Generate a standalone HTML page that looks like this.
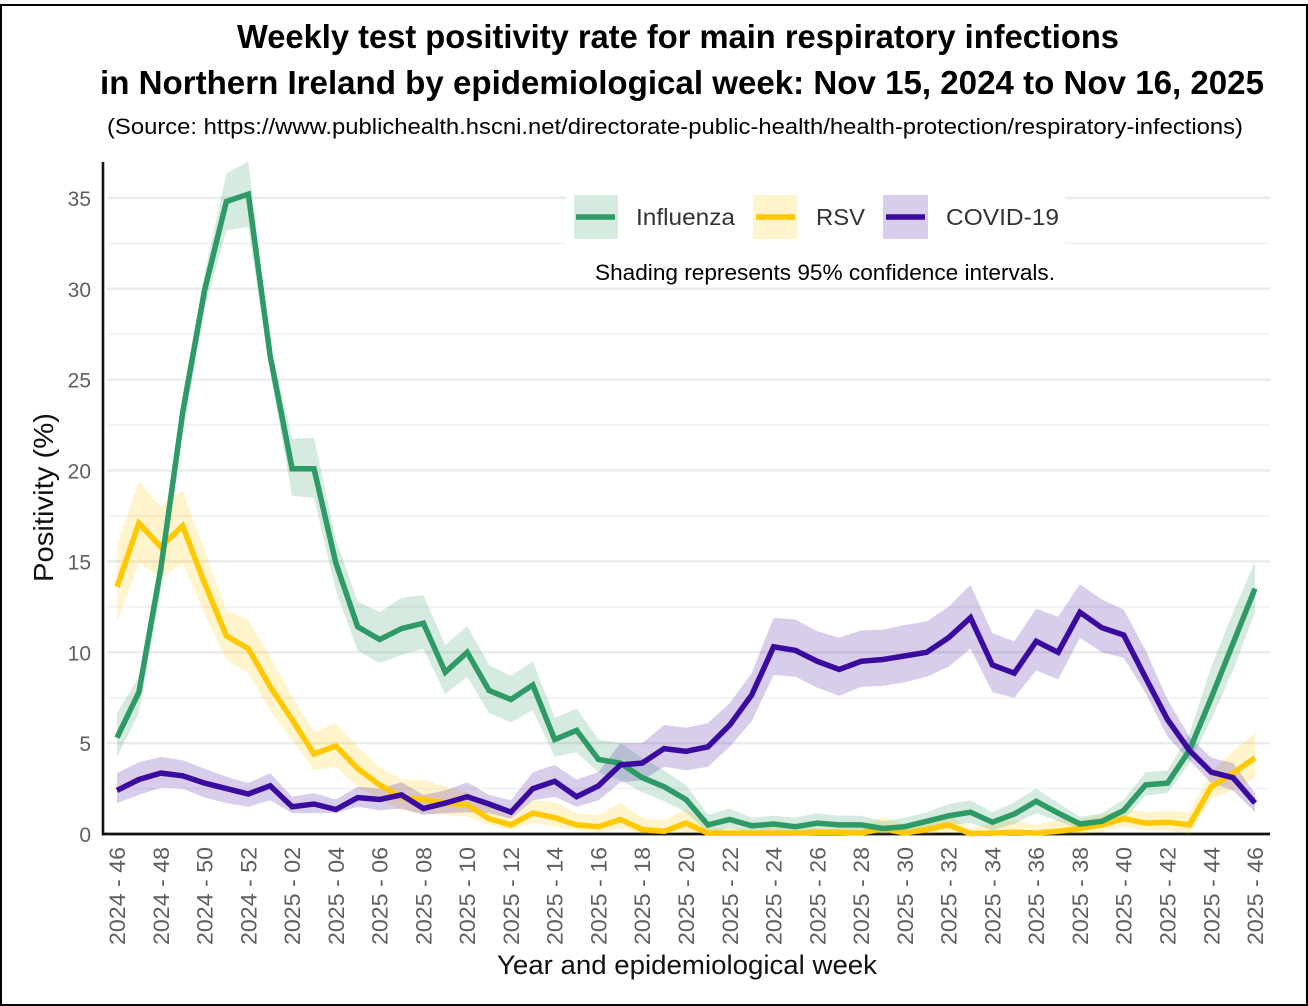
<!DOCTYPE html>
<html lang="en">
<head>
<meta charset="utf-8">
<title>Weekly test positivity rate, Northern Ireland</title>
<style>
html,body{margin:0;padding:0;background:#fff;}
svg{display:block;font-family:"Liberation Sans",Arial,sans-serif;}
</style>
</head>
<body>
<svg id="chart" xmlns="http://www.w3.org/2000/svg" width="1308" height="1006" viewBox="0 0 1308 1006">
  <rect x="0" y="0" width="1308" height="1006" fill="#fff"/>
  <rect x="1" y="5" width="1306" height="1000" fill="none" stroke="#000" stroke-width="2"/>
  <text x="237" y="48" font-size="33.5" font-weight="700" fill="#000" textLength="882" lengthAdjust="spacingAndGlyphs">Weekly test positivity rate for main respiratory infections</text>
  <text x="100" y="94" font-size="33.5" font-weight="700" fill="#000" textLength="1164" lengthAdjust="spacingAndGlyphs">in Northern Ireland by epidemiological week: Nov 15, 2024 to Nov 16, 2025</text>
  <text x="107" y="134" font-size="22" fill="#000" textLength="1136" lengthAdjust="spacingAndGlyphs">(Source: https://www.publichealth.hscni.net/directorate-public-health/health-protection/respiratory-infections)</text>
  <g id="grid"></g>
  <g id="yticks"></g>
  <g id="xticks"></g>
  <line x1="103" y1="162" x2="103" y2="835.5" stroke="#111" stroke-width="2.6"/>
  <line x1="102" y1="834" x2="1270" y2="834" stroke="#111" stroke-width="2.8"/>
  <g id="series"></g>
  <text transform="translate(53,582) rotate(-90)" font-size="28" fill="#111" textLength="169" lengthAdjust="spacingAndGlyphs">Positivity (%)</text>
  <text x="497" y="974" font-size="26.5" fill="#111" textLength="380" lengthAdjust="spacingAndGlyphs">Year and epidemiological week</text>
  <g>
    <rect x="566" y="190" width="499" height="57" fill="#fff"/>
    <rect x="574" y="195" width="44" height="44" fill="#2E9A66" fill-opacity="0.2"/>
    <line x1="576" y1="217" x2="615" y2="217" stroke="#2E9A66" stroke-width="5.5"/>
    <text x="636" y="225" font-size="23.5" fill="#333" textLength="99" lengthAdjust="spacingAndGlyphs">Influenza</text>
    <rect x="753" y="195" width="44" height="44" fill="#FFC800" fill-opacity="0.2"/>
    <line x1="756" y1="217" x2="795" y2="217" stroke="#FFC800" stroke-width="5.5"/>
    <text x="816" y="225" font-size="23.5" fill="#333" textLength="49" lengthAdjust="spacingAndGlyphs">RSV</text>
    <rect x="883" y="195" width="45" height="44" fill="#3B0A9E" fill-opacity="0.2"/>
    <line x1="886" y1="217" x2="925" y2="217" stroke="#3B0A9E" stroke-width="5.5"/>
    <text x="946" y="225" font-size="23.5" fill="#333" textLength="113" lengthAdjust="spacingAndGlyphs">COVID-19</text>
  </g>
  <text x="595" y="280" font-size="22" fill="#000" textLength="460" lengthAdjust="spacingAndGlyphs">Shading represents 95% confidence intervals.</text>
</svg>
<script>
var categories = ["2024 - 46","2024 - 47","2024 - 48","2024 - 49","2024 - 50","2024 - 51","2024 - 52","2025 - 01","2025 - 02","2025 - 03","2025 - 04","2025 - 05","2025 - 06","2025 - 07","2025 - 08","2025 - 09","2025 - 10","2025 - 11","2025 - 12","2025 - 13","2025 - 14","2025 - 15","2025 - 16","2025 - 17","2025 - 18","2025 - 19","2025 - 20","2025 - 21","2025 - 22","2025 - 23","2025 - 24","2025 - 25","2025 - 26","2025 - 27","2025 - 28","2025 - 29","2025 - 30","2025 - 31","2025 - 32","2025 - 33","2025 - 34","2025 - 35","2025 - 36","2025 - 37","2025 - 38","2025 - 39","2025 - 40","2025 - 41","2025 - 42","2025 - 43","2025 - 44","2025 - 45","2025 - 46"];
var xTickLabels = ["2024 - 46","2024 - 48","2024 - 50","2024 - 52","2025 - 02","2025 - 04","2025 - 06","2025 - 08","2025 - 10","2025 - 12","2025 - 14","2025 - 16","2025 - 18","2025 - 20","2025 - 22","2025 - 24","2025 - 26","2025 - 28","2025 - 30","2025 - 32","2025 - 34","2025 - 36","2025 - 38","2025 - 40","2025 - 42","2025 - 44","2025 - 46"];
var yTickLabels = [0,5,10,15,20,25,30,35];
var yMinorTicks = [2.5,7.5,12.5,17.5,22.5,27.5,32.5];

var influenza = [5.3,7.8,14.6,23.2,29.9,34.8,35.2,26.3,20.1,20.1,14.9,11.4,10.7,11.3,11.6,8.9,10.0,7.9,7.4,8.2,5.2,5.7,4.1,3.9,3.1,2.6,1.9,0.5,0.8,0.45,0.55,0.4,0.6,0.5,0.5,0.3,0.4,0.7,1.0,1.2,0.65,1.1,1.8,1.15,0.55,0.7,1.3,2.7,2.8,4.6,7.5,10.5,13.5];
var influenzaUpper = [6.65,8.65,15.6,24.2,30.8,36.35,37.0,26.9,21.75,21.8,16.2,12.8,12.2,13.0,13.15,10.4,11.45,9.3,8.7,9.5,6.4,6.9,5.2,5.0,4.2,3.5,2.7,1.05,1.4,0.9,1.0,0.9,1.15,1.0,1.0,0.7,0.9,1.2,1.65,1.85,1.2,1.75,2.5,1.7,0.95,1.15,1.9,3.4,3.5,5.5,9.2,12.2,15.0];
var influenzaLower = [4.25,6.65,13.4,22.0,28.9,33.2,33.4,25.4,18.6,18.5,13.4,10.1,9.4,9.85,10.2,7.7,8.65,6.65,6.15,6.8,4.25,4.5,3.4,2.95,2.3,1.8,1.2,0.1,0.3,0.1,0.2,0.1,0.2,0.2,0.2,0.05,0.05,0.3,0.5,0.6,0.2,0.55,1.15,0.7,0.25,0.35,0.8,2.1,2.25,3.9,6.3,9.0,12.2];

var rsv = [13.6,17.1,15.8,16.95,13.8,10.9,10.2,8.1,6.3,4.4,4.85,3.6,2.7,2.0,1.9,1.7,1.6,0.85,0.5,1.15,0.9,0.5,0.4,0.8,0.25,0.15,0.6,0.05,0.05,0.05,0.05,0.05,0.1,0.1,0.05,0.3,0.05,0.25,0.5,0.02,0.05,0.1,0.05,0.15,0.3,0.5,0.85,0.6,0.65,0.5,2.6,3.35,4.2];
var rsvUpper = [15.9,19.4,18.0,18.9,15.6,12.3,11.8,9.75,7.55,5.6,6.1,4.8,3.7,3.0,3.0,2.6,2.3,1.5,0.95,1.85,1.75,1.15,1.05,1.7,0.9,0.75,1.4,0.4,0.3,0.3,0.4,0.5,0.3,0.3,0.4,0.95,0.5,0.8,1.1,0.3,0.6,0.75,0.5,0.8,0.8,1.05,1.4,1.2,1.3,1.2,3.4,4.6,5.55];
var rsvLower = [11.6,14.9,14.1,14.9,12.15,9.6,8.85,6.8,5.2,3.5,3.7,2.6,1.9,1.3,1.15,1.05,0.95,0.5,0.2,0.6,0.4,0.2,0.1,0.3,0,0,0.1,0,0,0,0,0,0,0,0,0,0,0,0.1,0,0,0,0,0,0,0.1,0.4,0.2,0.2,0,1.95,2.4,3.1];

var covid = [2.4,3.0,3.35,3.2,2.8,2.5,2.2,2.65,1.5,1.65,1.35,2.0,1.9,2.15,1.4,1.7,2.05,1.65,1.2,2.5,2.9,2.05,2.65,3.8,3.9,4.7,4.55,4.8,6.0,7.65,10.3,10.1,9.5,9.05,9.5,9.6,9.8,10.0,10.8,11.9,9.3,8.85,10.6,10.0,12.2,11.35,10.95,8.6,6.3,4.6,3.4,3.1,1.7];
var covidUpper = [3.35,3.95,4.25,4.05,3.6,3.15,2.8,3.35,2.05,2.25,1.9,2.6,2.5,2.85,2.15,2.4,2.85,2.15,1.85,3.4,3.8,3.0,3.4,5.0,5.0,6.0,5.85,6.1,7.2,8.85,11.9,11.8,11.15,10.8,11.2,11.25,11.5,11.7,12.5,13.7,11.05,10.6,12.4,11.95,13.75,12.9,12.35,10.1,7.4,5.35,4.2,3.9,2.25];
var covidLower = [1.7,2.15,2.55,2.5,2.0,1.7,1.5,1.85,1.15,1.15,1.15,1.5,1.3,1.4,1.05,1.15,1.2,1.15,0.85,1.85,2.05,1.5,1.85,2.85,2.95,3.7,3.5,3.7,4.8,6.2,8.75,8.65,8.05,7.6,8.1,8.15,8.35,8.65,9.2,10.2,7.8,7.5,9.0,8.5,10.8,10.0,9.7,7.75,5.35,4.05,2.8,2.4,1.2];

var NS = "http://www.w3.org/2000/svg";
var plot = {x0:117, xStep:21.885, y0:834, yPerUnit:18.175, gridLeft:107, gridRight:1270};
function xScale(i){ return plot.x0 + i * plot.xStep; }
function yScale(v){ return plot.y0 - v * plot.yPerUnit; }
function make(tag, attrs){
  var el = document.createElementNS(NS, tag);
  for (var k in attrs) el.setAttribute(k, attrs[k]);
  return el;
}
var grid = document.getElementById("grid");
yMinorTicks.forEach(function(v){
  var el = make("line", {x1:plot.gridLeft, x2:plot.gridRight, y1:yScale(v), y2:yScale(v), stroke:"#f3f3f3", "stroke-width":2});
  
  
  grid.appendChild(el);
});
yTickLabels.forEach(function(v){
  if (v > 0) {
    var el = make("line", {x1:plot.gridLeft, x2:plot.gridRight, y1:yScale(v), y2:yScale(v), stroke:"#ebebeb", "stroke-width":2.6});
    
    
    grid.appendChild(el);
  }
});
var yt = document.getElementById("yticks");
yTickLabels.forEach(function(v){
  var el = make("text", {x:91, y:yScale(v)+8, "text-anchor":"end", "font-size":21, fill:"#5f5f5f"});
  
  
  el.textContent = String(v);
  yt.appendChild(el);
});
var xt = document.getElementById("xticks");
xTickLabels.forEach(function(label){
  var i = categories.indexOf(label);
  var bx = xScale(i) + 8;
  var el = make("text", {transform:"translate("+bx+",847) rotate(-90)", "text-anchor":"end", "font-size":22, fill:"#5f5f5f", textLength:98, lengthAdjust:"spacingAndGlyphs"});
  
  
  el.textContent = label;
  xt.appendChild(el);
});
function linePoints(values){
  return values.map(function(v,i){ return xScale(i).toFixed(1)+","+yScale(v).toFixed(1); }).join(" ");
}
function bandPoints(upper, lower){
  var top = upper.map(function(v,i){ return xScale(i).toFixed(1)+","+yScale(v).toFixed(1); });
  var bot = lower.map(function(v,i){ return xScale(i).toFixed(1)+","+yScale(v).toFixed(1); }).reverse();
  return top.concat(bot).join(" ");
}
var layer = document.getElementById("series");

var rsvBand = make("polygon", {points:bandPoints(rsvUpper, rsvLower), fill:"#FFC800", "fill-opacity":0.2});


layer.appendChild(rsvBand);

var fluBand = make("polygon", {points:bandPoints(influenzaUpper, influenzaLower), fill:"#2E9A66", "fill-opacity":0.2});


layer.appendChild(fluBand);

var covidBand = make("polygon", {points:bandPoints(covidUpper, covidLower), fill:"#3B0A9E", "fill-opacity":0.2});


layer.appendChild(covidBand);

var rsvLine = make("polyline", {points:linePoints(rsv), fill:"none", stroke:"#FFC800", "stroke-width":5.5, "stroke-linejoin":"miter"});


layer.appendChild(rsvLine);

var fluLine = make("polyline", {points:linePoints(influenza), fill:"none", stroke:"#2E9A66", "stroke-width":5.5, "stroke-linejoin":"miter"});


layer.appendChild(fluLine);

var covidLine = make("polyline", {points:linePoints(covid), fill:"none", stroke:"#3B0A9E", "stroke-width":5.5, "stroke-linejoin":"miter"});


layer.appendChild(covidLine);
</script>
</body>
</html>
